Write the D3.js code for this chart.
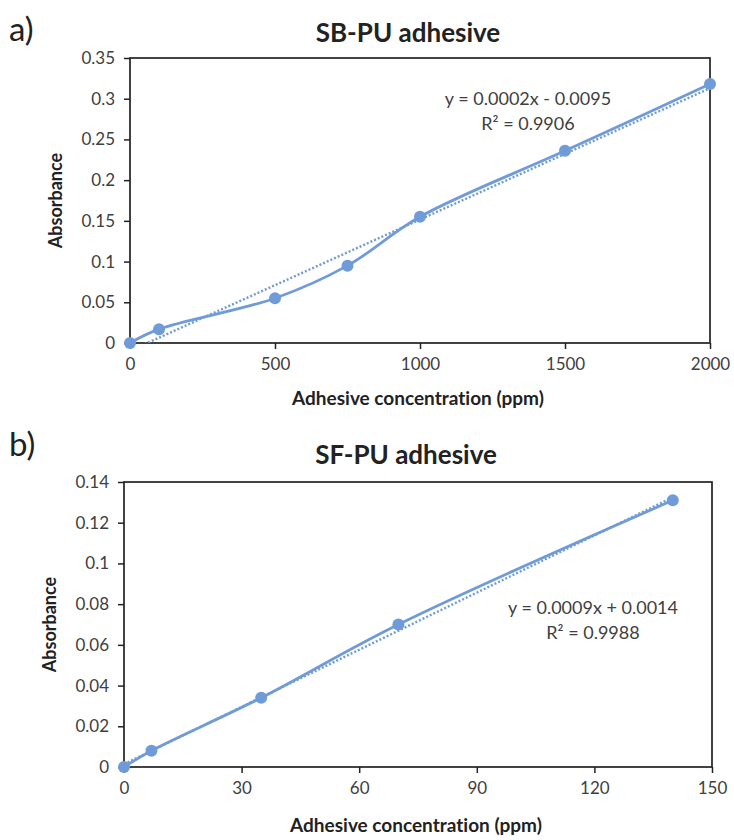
<!DOCTYPE html>
<html>
<head>
<meta charset="utf-8">
<script src="https://cdn.jsdelivr.net/npm/d3@7"></script>
<style>
  body { margin: 0; background: #fff; }
  svg text { font-family: Lato, "Open Sans", sans-serif; fill: #404040; font-variant-ligatures: none; }
</style>
</head>
<body>
<div id="chart"></div>
<script>
// Panel a) SB-PU adhesive
const sbConc = [0, 100, 500, 750, 1000, 1500, 2000];
const sbAbs = [0, 0.017, 0.055, 0.095, 0.155, 0.236, 0.318];
const sbYTicks = [0, 0.05, 0.1, 0.15, 0.2, 0.25, 0.3, 0.35];
const sbXTicks = [0, 500, 1000, 1500, 2000];
const sbEquation = ["y = 0.0002x - 0.0095", "R² = 0.9906"];

// Panel b) SF-PU adhesive
const sfConc = [0, 7, 35, 70, 140];
const sfAbs = [0, 0.008, 0.034, 0.070, 0.131];
const sfYTicks = [0, 0.02, 0.04, 0.06, 0.08, 0.1, 0.12, 0.14];
const sfXTicks = [0, 30, 60, 90, 120, 150];
const sfEquation = ["y = 0.0009x + 0.0014", "R² = 0.9988"];

const blue = "#6f9bd9";

const svg = d3.select("#chart").append("svg")
    .attr("width", 734)
    .attr("height", 840);

// least squares fit, like the Excel linear trendline
function linearFit(xs, ys) {
    const mx = d3.mean(xs), my = d3.mean(ys);
    let sxy = 0, sxx = 0;
    xs.forEach((x, i) => { sxy += (x - mx) * (ys[i] - my); sxx += (x - mx) * (x - mx); });
    const slope = sxy / sxx;
    return { slope, intercept: my - slope * mx };
}

function drawPanel(cfg) {
    const g = svg.append("g");
    const x = d3.scaleLinear().domain(cfg.xDomain).range([cfg.left, cfg.right]);
    const y = d3.scaleLinear().domain(cfg.yDomain).range([cfg.bottom, cfg.top]);

    g.append("text")
        .attr("x", 9).attr("y", cfg.letterY)
        .style("font-size", "33px")
        .style("fill", "#222")
        .text(cfg.letter);

    g.append("text")
        .attr("x", (cfg.left + cfg.right) / 2 - 12).attr("y", cfg.titleY)
        .attr("text-anchor", "middle")
        .style("font-size", "26px").style("font-weight", "bold")
        .style("fill", "#222")
        .text(cfg.title);

    const clipId = "clip-" + cfg.letter[0];
    g.append("clipPath").attr("id", clipId)
        .append("rect")
        .attr("x", cfg.left).attr("y", cfg.top)
        .attr("width", cfg.right - cfg.left).attr("height", cfg.bottom - cfg.top);

    // axes
    const yAxis = g.append("g")
        .attr("transform", `translate(${cfg.left},0)`)
        .call(d3.axisLeft(y).tickValues(cfg.yTicks).tickSize(6).tickPadding(9).tickFormat(d => String(+d.toFixed(3))));
    const xAxis = g.append("g")
        .attr("transform", `translate(0,${cfg.bottom})`)
        .call(d3.axisBottom(x).tickValues(cfg.xTicks).tickSize(6).tickPadding(9).tickFormat(d => String(d)));
    [yAxis, xAxis].forEach(a => {
        a.select(".domain").remove();
        a.selectAll("line").attr("stroke", "#222").attr("stroke-width", 1.5);
        a.selectAll("text").style("font-size", "17px").style("fill", "#404040").style("font-family", "Lato, sans-serif");
    });

    g.append("rect")
        .attr("x", cfg.left).attr("y", cfg.top)
        .attr("width", cfg.right - cfg.left).attr("height", cfg.bottom - cfg.top)
        .attr("fill", "none").attr("stroke", "#222").attr("stroke-width", 1.7);

    // axis titles
    g.append("text")
        .attr("transform", `translate(${cfg.yLabelX},${(cfg.top + cfg.bottom) / 2}) rotate(-90)`)
        .attr("text-anchor", "middle")
        .style("font-size", "18px").style("font-weight", "bold").style("fill", "#222")
        .text("Absorbance");
    g.append("text")
        .attr("x", (cfg.left + cfg.right) / 2 - 2).attr("y", cfg.xLabelY)
        .attr("text-anchor", "middle")
        .style("font-size", "19px").style("font-weight", "bold").style("fill", "#222")
        .text("Adhesive concentration (ppm)");

    const pts = cfg.xs.map((v, i) => [v, cfg.ys[i]]);

    // trendline (dotted)
    const fit = linearFit(cfg.xs, cfg.ys);
    const x0 = cfg.xs[0], x1 = cfg.xs[cfg.xs.length - 1];
    g.append("line")
        .attr("clip-path", `url(#${clipId})`)
        .attr("x1", x(x0)).attr("y1", y(fit.intercept + fit.slope * x0))
        .attr("x2", x(x1)).attr("y2", y(fit.intercept + fit.slope * x1))
        .attr("stroke", blue).attr("stroke-width", 2.4)
        .attr("stroke-dasharray", "2,2");

    // smoothed series line
    g.append("path")
        .datum(pts)
        .attr("fill", "none")
        .attr("stroke", blue)
        .attr("stroke-width", 2.8)
        .attr("d", d3.line().x(d => x(d[0])).y(d => y(d[1])).curve(d3.curveCatmullRom.alpha(0.5)));

    g.selectAll(".pt")
        .data(pts)
        .enter().append("circle")
        .attr("cx", d => x(d[0])).attr("cy", d => y(d[1]))
        .attr("r", 6)
        .attr("fill", blue);

    // equation label
    cfg.eq.forEach((t, i) => {
        g.append("text")
            .attr("x", cfg.eqX).attr("y", cfg.eqY + i * 25)
            .attr("text-anchor", "middle")
            .style("font-size", "18px").style("fill", "#404040")
            .text(t);
    });
}

drawPanel({
    letter: "a)", letterY: 41, title: "SB-PU adhesive", titleY: 42,
    xs: sbConc, ys: sbAbs, xDomain: [0, 2000], yDomain: [0, 0.35],
    xTicks: sbXTicks, yTicks: sbYTicks,
    left: 130, right: 710, top: 58, bottom: 343,
    yLabelX: 62, xLabelY: 405,
    eq: sbEquation, eqX: 528, eqY: 105
});

drawPanel({
    letter: "b)", letterY: 456, title: "SF-PU adhesive", titleY: 464,
    xs: sfConc, ys: sfAbs, xDomain: [0, 150], yDomain: [0, 0.14],
    xTicks: sfXTicks, yTicks: sfYTicks,
    left: 124, right: 712, top: 482, bottom: 767,
    yLabelX: 56, xLabelY: 832,
    eq: sfEquation, eqX: 593, eqY: 614
});
</script>
</body>
</html>
